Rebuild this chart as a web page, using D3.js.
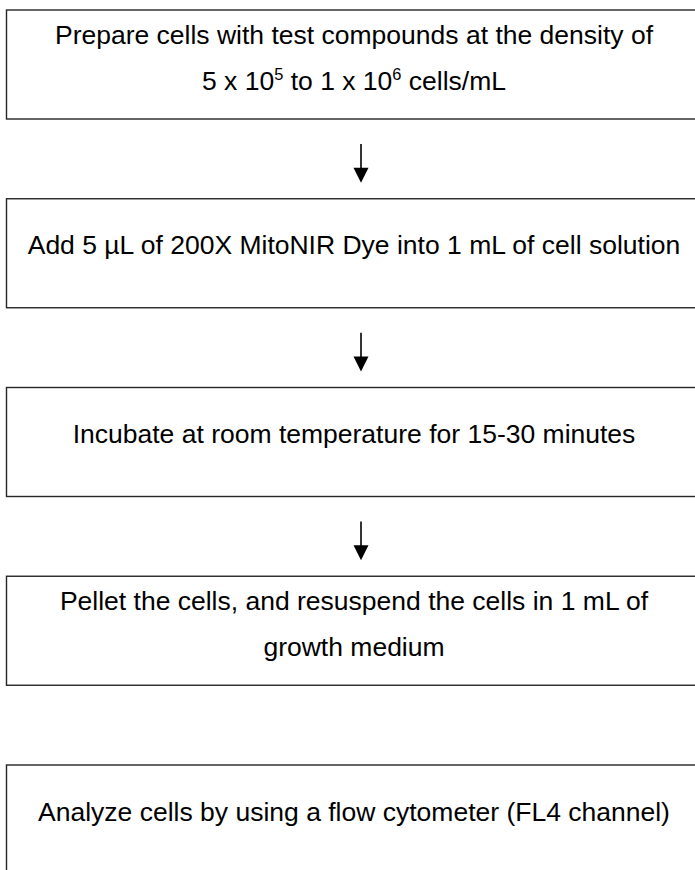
<!DOCTYPE html>
<html>
<head>
<meta charset="utf-8">
<script src="https://cdn.jsdelivr.net/npm/d3@7"></script>
<style>
html,body{margin:0;padding:0;background:#fff;}
svg{display:block;}
</style>
</head>
<body>
<svg id="chart" width="695" height="870"></svg>
<script>
// Flowchart steps (each step = list of lines; superscripts marked with ^{...})
const stepLines = [
  ["Prepare cells with test compounds at the density of", "5 x 10^{5} to 1 x 10^{6} cells/mL"],
  ["Add 5 µL of 200X MitoNIR Dye into 1 mL of cell solution"],
  ["Incubate at room temperature for 15-30 minutes"],
  ["Pellet the cells, and resuspend the cells in 1 mL of", "growth medium"],
  ["Analyze cells by using a flow cytometer (FL4 channel)"]
];
// arrows connect step i -> i+1 (no arrow before the last step)
const arrowLinks = [[0,1],[1,2],[2,3]];

const W = 695, H = 870;
const svg = d3.select("#chart");

const boxLeft = 6.5, boxRight = 702, boxH = 109;
const yScale = d3.scaleLinear().domain([0, 4]).range([10, 765]);
const cx = 354;
const arrowX = 361;
const fontSize = 26.5;

const g = svg.append("g");

stepLines.forEach((lines, i) => {
  const top = yScale(i);
  g.append("rect")
    .attr("x", boxLeft).attr("y", top)
    .attr("width", boxRight - boxLeft).attr("height", boxH)
    .attr("fill", "none").attr("stroke", "#262626").attr("stroke-width", 1.4);
  const baselines = lines.length === 2 ? [top + 34, top + 80] : [top + 55.5];
  lines.forEach((ln, j) => {
    const t = g.append("text")
      .attr("x", cx).attr("y", baselines[j])
      .attr("text-anchor", "middle")
      .attr("font-family", "Liberation Sans, Arial, sans-serif")
      .attr("font-size", fontSize)
      .attr("fill", "#000");
    const parts = ln.split(/(\^\{[^}]*\})/).filter(p => p);
    let pendingDy = 0;
    parts.forEach(p => {
      const m = p.match(/^\^\{([^}]*)\}$/);
      if (m) {
        t.append("tspan").attr("font-size", fontSize * 0.62).attr("dy", -10).text(m[1]);
        pendingDy = 10;
      } else {
        const ts = t.append("tspan").text(p);
        if (pendingDy) { ts.attr("dy", pendingDy); pendingDy = 0; }
      }
    });
  });
});

arrowLinks.forEach(([a, b]) => {
  const y0 = yScale(a) + boxH + 25;
  const tip = yScale(b) - 16;
  const headH = 15, headW = 15;
  g.append("line")
    .attr("x1", arrowX).attr("x2", arrowX)
    .attr("y1", y0).attr("y2", tip - headH + 1)
    .attr("stroke", "#000").attr("stroke-width", 1.6);
  g.append("path")
    .attr("d", `M${arrowX - headW/2},${tip - headH} L${arrowX + headW/2},${tip - headH} L${arrowX},${tip} Z`)
    .attr("fill", "#000");
});
</script>
</body>
</html>
